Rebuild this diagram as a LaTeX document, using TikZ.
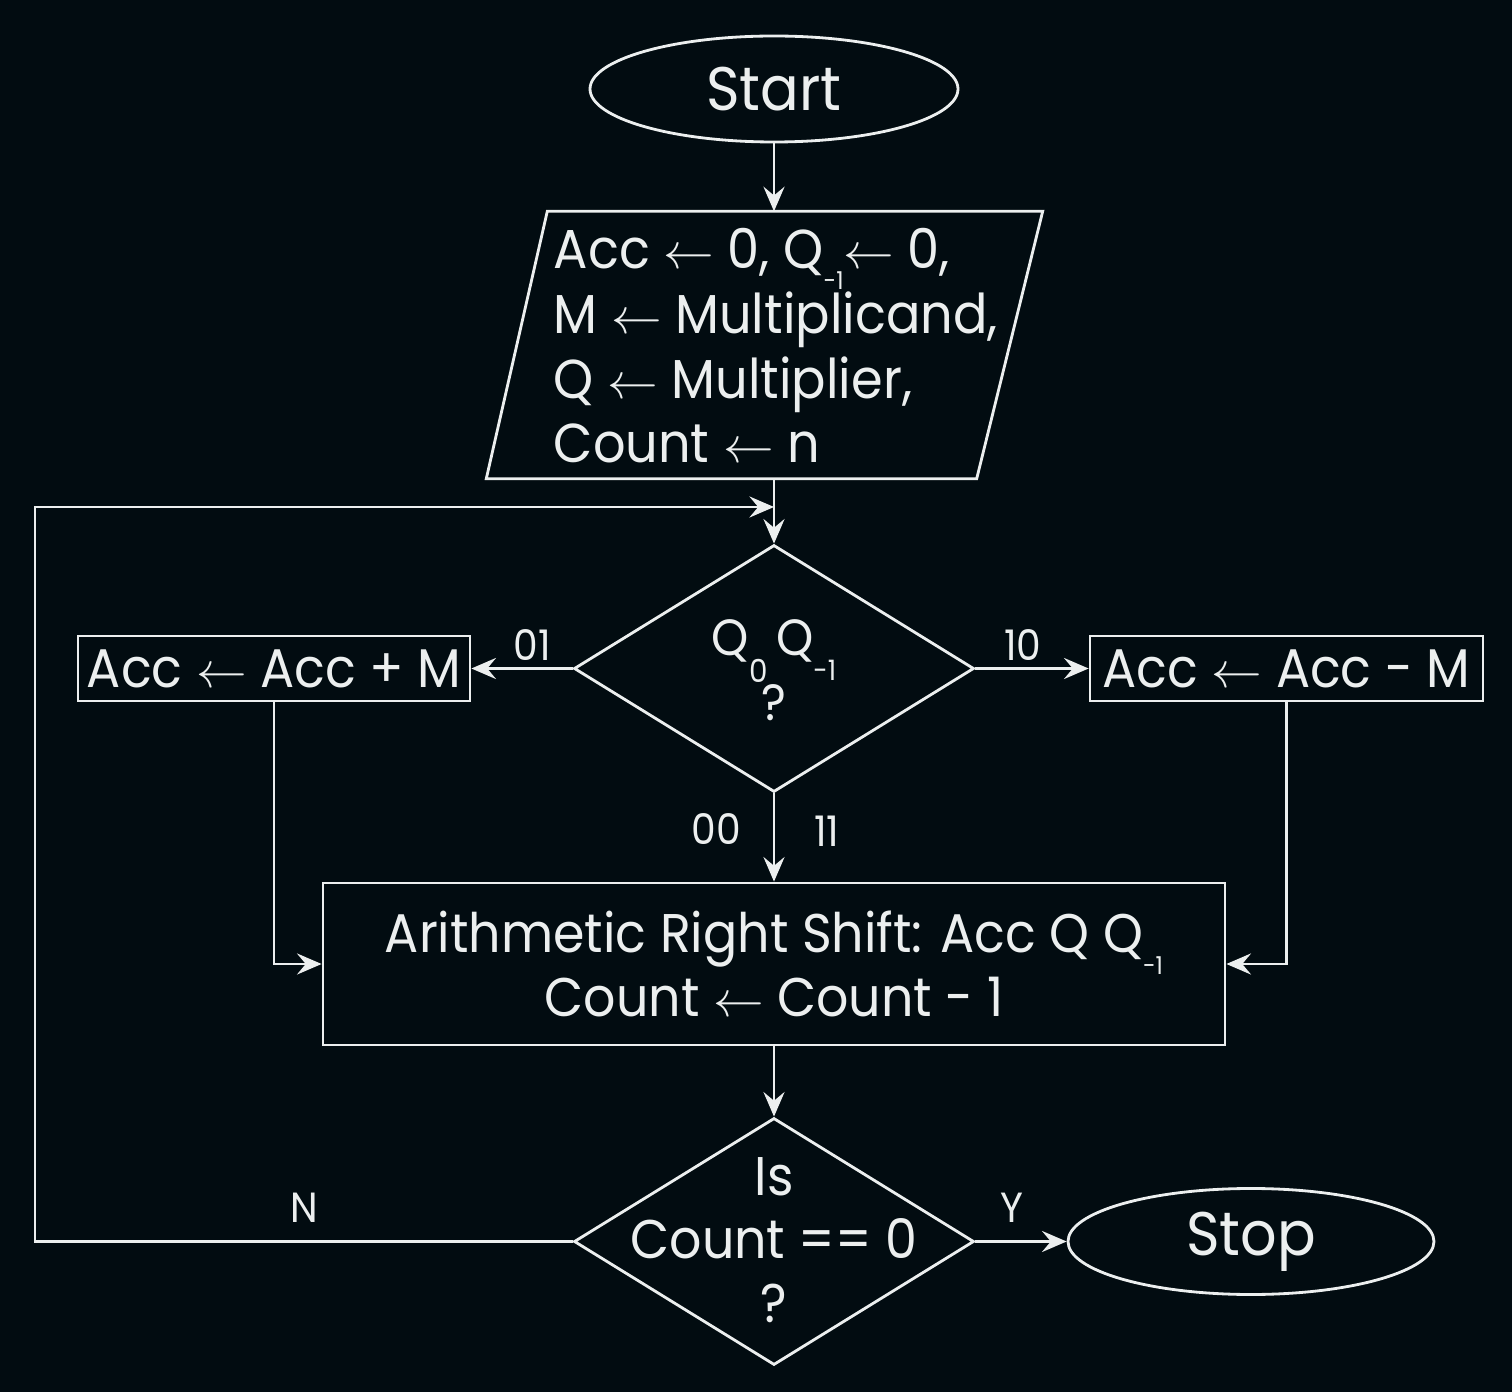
\documentclass[tikz,border=0pt]{standalone}
\usepackage{fontspec}
\setmainfont{Poppins}[FakeStretch=0.93]
\usetikzlibrary{arrows.meta, calc, positioning, shapes.geometric}

\definecolor{bgdark}{HTML}{020C11}
\definecolor{ink}{HTML}{ECEFEF}

% lowered small index, as in Q_{-1}
\newcommand{\lowsub}[3][7]{\smash{\raisebox{#2}{\fontsize{#1}{#1}\selectfont #3}}}

\begin{document}
\begin{tikzpicture}[>={Stealth[length=7pt, width=6pt, inset=2.5pt]},
	every node/.style={text=ink},
	flow/.style={draw=ink, line width=0.8pt},
	terminal/.style={flow, ellipse, minimum width=3.68cm, minimum height=1.06cm, inner sep=0pt, font=\fontsize{17.5}{20}\selectfont},
	process/.style={flow, rectangle, inner sep=0pt, font=\fontsize{15.5}{18}\selectfont},
	decision/.style={flow, diamond, minimum width=4cm, minimum height=2.47cm, inner sep=2pt},
	link/.style={draw=ink, line width=0.8pt, ->},
	tag/.style={font=\fontsize{12}{12}\selectfont, inner sep=1pt}]
	
	% Background
	\useasboundingbox[fill=bgdark] (0,0) rectangle (15.12,-13.92);
	
	% --- MAIN COLUMN ---
	\node[terminal] (start) at (7.74,-0.89) {Start};
	
	% input box: frame node, slanted outline drawn from its corners
	\node[minimum width=5.55cm, minimum height=2.66cm, inner sep=0pt] (init) at (7.645,-3.45) {};
	\draw[flow] ([xshift=0.61cm]init.north west) -- (init.north east)
		-- ([xshift=-0.66cm]init.south east) -- (init.south west) -- cycle;
	\node[anchor=west, align=left, inner sep=0pt, font=\fontsize{15.6}{18.4}\selectfont] (inittext) at (5.53,-3.46) {
		Acc $\leftarrow$ 0, Q\lowsub{-6pt}{-1}$\leftarrow$ 0,\\
		M $\leftarrow$ Multiplicand,\\
		Q $\leftarrow$ Multiplier,\\
		Count $\leftarrow$ n
	};
	
	% Booth pair test
	\node[decision] (dec1) at (7.74,-6.685) {\strut};
	\node[align=center, font=\fontsize{14.5}{18.5}\selectfont] (ask1) at (7.74,-6.70) {
		Q\lowsub[9]{-7.7pt}{0}\,Q\lowsub[8]{-7.2pt}{-1}\\ ?
	};
	
	% Add / subtract branches
	\node[process, minimum width=3.92cm, minimum height=0.65cm] (addM) at (2.74,-6.685) {Acc $\leftarrow$ Acc + M};
	\node[process, minimum width=3.93cm, minimum height=0.65cm] (subM) at (12.865,-6.685) {Acc $\leftarrow$ Acc - M};
	
	% Shift and count
	\node[process, minimum width=9.02cm, minimum height=1.62cm, align=center] (shift) at (7.74,-9.64) {
		Arithmetic Right Shift: Acc Q Q\lowsub{-6pt}{-1}\\
		Count $\leftarrow$ Count - 1
	};
	
	% Loop test
	\node[decision] (dec2) at (7.74,-12.415) {\strut};
	\node[align=center, font=\fontsize{15.5}{18}\selectfont] (ask2) at (7.74,-12.40) {
		Is\\ Count == 0\\ ?
	};
	\node[terminal, minimum width=3.66cm] (stop) at (12.51,-12.415) {Stop};
	
	% --- CONNECTORS ---
	\coordinate (join) at (7.74,-5.07);
	\coordinate (back) at (0.35,-12.415);
	\draw[link] (start.south) -- (start.south |- init.north);
	\draw[link] (dec1.north |- init.south) -- (dec1.north);
	\draw[link] (dec1.west) -- node[tag, above=1pt, pos=0.4] (lab01) {01} (addM.east);
	\draw[link] (dec1.east) -- node[tag, above=1pt, pos=0.42] (lab10) {10} (subM.west);
	\draw[link] (dec1.south) -- node[tag, left=8pt, pos=0.4] (lab00) {00}
		node[tag, right=10pt, pos=0.43] (lab11) {11} (shift.north);
	\draw[link] (addM.south) |- (shift.west);
	\draw[link] (subM.south) |- (shift.east);
	\draw[link] (shift.south) -- (dec2.north);
	\draw[link] (dec2.east) -- node[tag, above=4pt, pos=0.4] (labY) {Y} (stop.west);
	
	% N: back round to the test
	\draw[link] (dec2.west) -- node[tag, above=4pt] (labN) {N} (back) |- (join);
	
\end{tikzpicture}
\end{document}
